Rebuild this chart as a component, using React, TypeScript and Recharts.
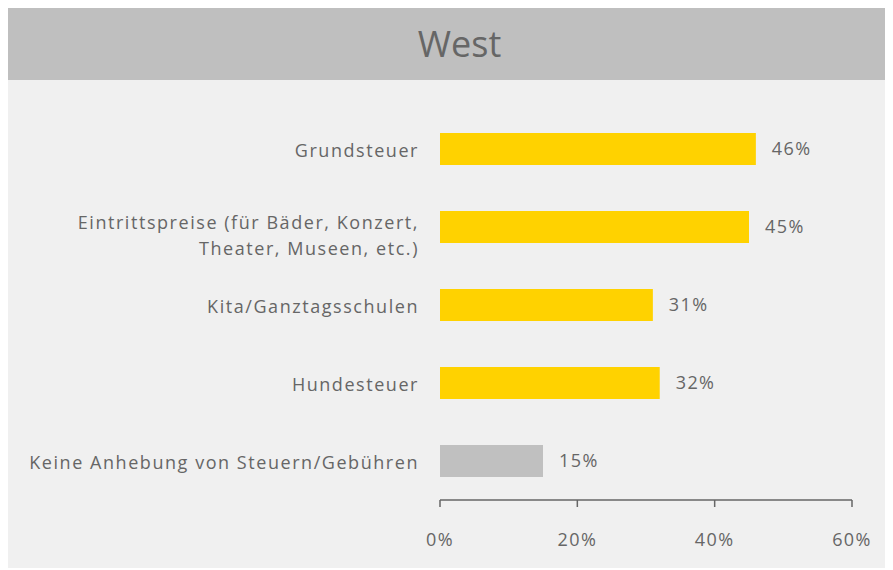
import React from 'react';
import { BarChart, Bar, XAxis, YAxis, Cell, LabelList } from 'recharts';

const categories = [
  'Grundsteuer',
  'Eintrittspreise (für Bäder, Konzert,|Theater, Museen, etc.)',
  'Kita/Ganztagsschulen',
  'Hundesteuer',
  'Keine Anhebung von Steuern/Gebühren',
];
const values = [46, 45, 31, 32, 15];
const barColors = ['#ffd200', '#ffd200', '#ffd200', '#ffd200', '#c0c0c0'];
const xTicks = [0, 20, 40, 60];

const FONT = '"Open Sans", sans-serif';
const TEXT = '#666666';
const SPACING = 1.4;

const data = categories.map((name, i) => ({ name, value: values[i] }));

const CategoryTick = (props: any) => {
  const { x, y, payload } = props;
  const lines = String(payload.value).split('|');
  const offsets = lines.length > 1 ? [-5, 21] : [1];
  return (
    <g>
      {lines.map((line, i) => (
        <text
          key={i}
          x={x - 13}
          y={y + offsets[i]}
          textAnchor="end"
          dominantBaseline="central"
          fill={TEXT}
          fontSize={18}
          letterSpacing={1.55}
          fontFamily={FONT}
        >
          {line}
        </text>
      ))}
    </g>
  );
};

const PercentTick = (props: any) => {
  const { x, y, payload } = props;
  return (
    <text
      x={x}
      y={y + 30}
      textAnchor="middle"
      dominantBaseline="central"
      fill={TEXT}
      fontSize={18}
      letterSpacing={SPACING}
      fontFamily={FONT}
    >
      {payload.value}%
    </text>
  );
};

const App: React.FC = () => {
  return (
    <div style={{ width: 885, fontFamily: FONT }}>
      <div
        style={{
          height: 72,
          background: '#bfbfbf',
          color: TEXT,
          fontSize: 36,
          lineHeight: '72px',
          textAlign: 'center',
          paddingLeft: 18,
          boxSizing: 'border-box',
        }}
      >
        West
      </div>
      <div style={{ background: '#f0f0f0', height: 488 }}>
        <BarChart
          width={885}
          height={488}
          data={data}
          layout="vertical"
          margin={{ top: 30, right: 41, bottom: 0, left: 0 }}
        >
          <XAxis
            type="number"
            domain={[0, 60]}
            ticks={xTicks}
            stroke="#666666"
            strokeWidth={1.5}
            tickSize={7}
            height={68}
            tick={<PercentTick />}
            interval={0}
          />
          <YAxis
            type="category"
            dataKey="name"
            width={432}
            axisLine={false}
            tickLine={false}
            tick={<CategoryTick />}
            interval={0}
          />
          <Bar dataKey="value" barSize={32} isAnimationActive={false}>
            {data.map((d, i) => (
              <Cell key={`cell-${i}`} fill={barColors[i]} />
            ))}
            <LabelList
              dataKey="value"
              position="right"
              offset={16}
              formatter={(v: any) => `${v}%`}
              fill={TEXT}
              fontSize={18}
              letterSpacing={SPACING}
              fontFamily={FONT}
            />
          </Bar>
        </BarChart>
      </div>
    </div>
  );
};

export default App;
